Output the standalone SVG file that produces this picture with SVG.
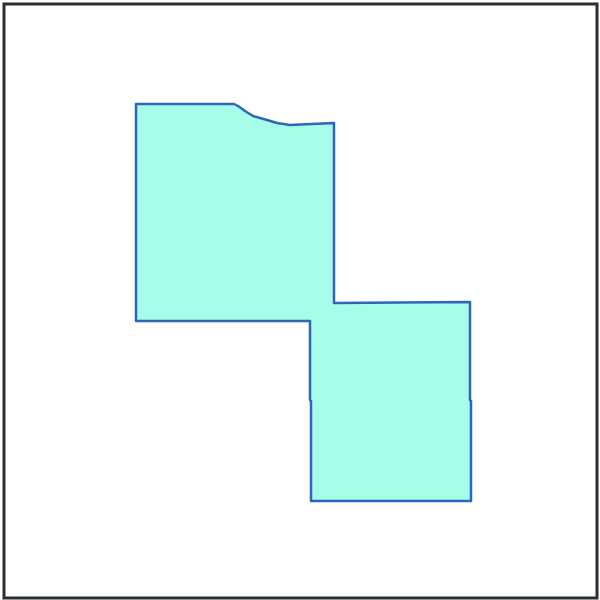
<svg xmlns="http://www.w3.org/2000/svg" width="600" height="600" viewBox="0 0 600 600">
<style>
.frame{fill:#ffffff;stroke:#2a2d32;stroke-width:3}
.region{fill:#a6fde9;stroke:#2d66bb;stroke-width:2.5;stroke-linejoin:round}
</style>
<rect class="frame" x="4" y="4" width="593" height="594"/>
<g id="region">
<path class="region" d="M136,104 L234,104 L238,106 L245,111 L253,116 L260,118 L267,120 L277,123 L290,125 L334,123 L334,303 L470,302 L470,400 L471,401 L471,501 L311,501 L311,401 L310,400 L310,321 L136,321 Z"/>
</g>
</svg>
